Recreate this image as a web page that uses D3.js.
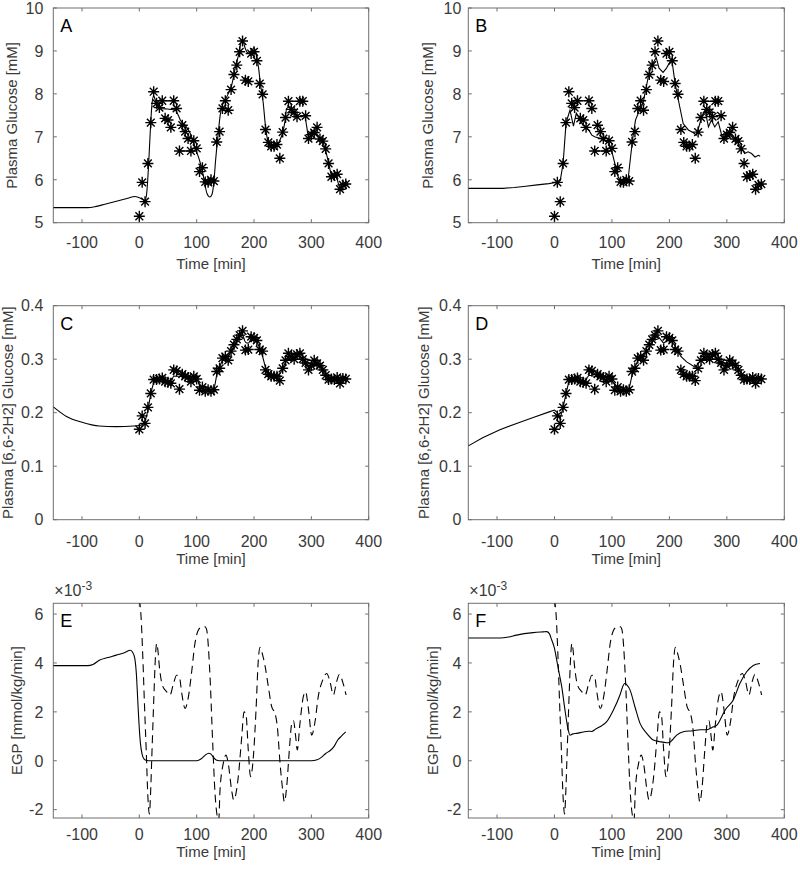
<!DOCTYPE html>
<html><head><meta charset="utf-8">
<script src="https://cdn.jsdelivr.net/npm/d3@7"></script>
<style>body{margin:0;background:#fff} text{font-family:"Liberation Sans",Arial,Helvetica,sans-serif}</style>
</head><body><svg id="c" width="800" height="870"></svg>
<script>
// ---------- data ----------
const sampleTimes = d3.range(0, 361, 5);
const glucoseData = [5.15,5.94,5.49,6.38,7.33,8.05,7.78,7.68,7.84,7.43,7.39,7.22,7.84,7.66,6.67,7.27,7.12,6.96,6.67,6.91,6.73,6.19,6.28,5.95,5.94,6.00,5.97,6.88,7.12,7.66,7.84,7.62,8.10,8.45,8.67,8.98,9.23,8.32,8.29,8.94,8.98,8.77,8.24,7.99,7.17,6.87,6.78,6.78,6.82,6.50,7.11,7.45,7.83,7.64,7.57,7.47,7.83,7.83,7.49,6.96,7.05,7.10,7.22,6.95,6.90,6.72,6.38,6.07,6.10,6.13,5.78,5.88,5.90];
const tracerData = [0.169,0.194,0.180,0.210,0.236,0.262,0.262,0.263,0.265,0.258,0.257,0.255,0.280,0.278,0.244,0.272,0.268,0.266,0.258,0.268,0.263,0.242,0.248,0.240,0.243,0.240,0.243,0.277,0.283,0.302,0.305,0.298,0.315,0.327,0.337,0.345,0.353,0.317,0.318,0.342,0.340,0.335,0.318,0.315,0.280,0.272,0.268,0.268,0.268,0.260,0.283,0.298,0.311,0.305,0.300,0.309,0.311,0.300,0.293,0.280,0.288,0.298,0.292,0.288,0.280,0.270,0.262,0.263,0.262,0.266,0.255,0.264,0.263];
const glucoseLinks = [[40,60],[70,90],[260,285]];

const modelA = [[-150,5.35],[-90,5.35],[-75,5.38],[-60,5.43],[-40,5.5],[-20,5.57],[-8,5.61],[0,5.58],[5,5.55],[10,5.52],[13,5.7],[16,6.3],[19,7.1],[22,7.75],[25,7.95],[28,7.85],[32,7.72],[36,7.66],[45,7.65],[55,7.64],[63,7.62],[68,7.5],[72,7.38],[80,7.27],[88,7.1],[95,6.85],[100,6.65],[105,6.45],[110,6.2],[114,5.92],[118,5.68],[123,5.6],[127,5.67],[130,5.95],[133,6.45],[137,7.0],[141,7.5],[145,7.75],[150,7.87],[155,8.0],[161,8.2],[167,8.58],[173,8.9],[178,9.2],[181,9.2],[185,9.05],[190,8.95],[195,8.98],[200,9.08],[204,8.9],[208,8.6],[211,8.25],[216,7.8],[220,7.25],[224,6.92],[230,6.82],[240,6.82],[245,6.92],[250,7.1],[254,7.36],[257,7.66],[263,7.7],[269,7.58],[275,7.5],[283,7.47],[288,7.5],[292,7.23],[295,7.0],[300,7.04],[305,7.15],[311,7.04],[317,6.96],[323,6.77],[330,6.4],[335,6.12],[344,6.04],[350,5.82],[356,5.87],[360,5.9]];
const modelB = [[-150,5.8],[-90,5.8],[-70,5.82],[-50,5.85],[-30,5.88],[-10,5.91],[0,5.93],[5,5.94],[10,5.98],[15,6.38],[20,7.3],[23,7.45],[27,7.62],[33,7.25],[38,7.55],[43,7.45],[48,7.3],[55,7.2],[60,7.15],[65,7.04],[70,7.0],[80,6.96],[90,6.9],[95,6.85],[100,6.65],[105,6.38],[110,6.1],[115,5.95],[122,5.95],[128,6.0],[133,6.6],[137,7.04],[141,7.39],[147,7.59],[151,7.68],[155,7.83],[158,8.05],[164,8.44],[169,8.67],[173,8.75],[177,8.85],[182,8.6],[189,8.5],[195,8.6],[204,8.82],[210,8.24],[218,7.7],[224,7.31],[233,7.16],[241,7.1],[247,7.04],[253,7.31],[256,7.47],[262,7.62],[268,7.23],[273,7.39],[279,7.23],[285,7.35],[291,7.04],[297,6.96],[305,7.04],[312,6.96],[320,6.85],[326,6.73],[331,6.61],[337,6.65],[343,6.61],[349,6.53],[355,6.57],[358,6.55]];
const modelC = [[-150,0.211],[-127,0.193],[-100,0.182],[-70,0.175],[-40,0.174],[-10,0.175],[0,0.176],[5,0.178],[10,0.185],[15,0.205],[20,0.235],[25,0.255],[30,0.262],[40,0.262],[50,0.258],[55,0.257],[60,0.268],[70,0.268],[80,0.266],[90,0.263],[100,0.262],[105,0.252],[110,0.245],[120,0.242],[130,0.245],[135,0.27],[140,0.285],[145,0.298],[150,0.303],[155,0.305],[160,0.315],[165,0.325],[170,0.335],[175,0.343],[180,0.345],[185,0.332],[190,0.33],[195,0.338],[200,0.34],[205,0.333],[210,0.32],[215,0.305],[220,0.285],[225,0.275],[235,0.268],[245,0.272],[250,0.283],[255,0.295],[260,0.305],[270,0.302],[280,0.305],[285,0.302],[290,0.29],[295,0.285],[305,0.29],[315,0.288],[320,0.282],[325,0.273],[330,0.266],[340,0.263],[350,0.26],[360,0.265]];
const modelD = [[-150,0.138],[-125,0.153],[-95,0.168],[-66,0.18],[-37,0.191],[-8,0.202],[0,0.205],[5,0.2],[10,0.19],[15,0.21],[20,0.235],[25,0.258],[30,0.262],[40,0.26],[50,0.256],[60,0.27],[70,0.268],[80,0.265],[90,0.262],[100,0.26],[110,0.245],[120,0.243],[130,0.245],[135,0.27],[145,0.298],[155,0.305],[165,0.322],[175,0.34],[180,0.343],[190,0.33],[200,0.338],[210,0.325],[220,0.305],[230,0.295],[245,0.285],[255,0.298],[265,0.305],[280,0.305],[290,0.29],[300,0.288],[310,0.29],[320,0.282],[330,0.268],[340,0.262],[350,0.26],[360,0.264]];
const egpE = [[-150,3.89],[-90,3.89],[-80,3.95],[-69,4.12],[-55,4.22],[-40,4.32],[-25,4.43],[-16,4.52],[-12,4.45],[-8,4.2],[-5,3.5],[-3,2.6],[-1,1.7],[2,0.7],[5,0.25],[8,0.08],[13,0.01],[20,0],[100,0],[108,0.08],[115,0.23],[121,0.31],[125,0.27],[129,0.15],[134,0.03],[140,0],[300,0],[310,0.04],[318,0.15],[325,0.3],[333,0.42],[340,0.6],[346,0.85],[352,1.0],[360,1.18]];
const egpF = [[-150,5.02],[-95,5.02],[-80,5.06],[-66,5.14],[-37,5.24],[-20,5.27],[-13.5,5.28],[-9,5.2],[-4.8,4.94],[0,4.6],[3.9,4.12],[8,3.6],[12.6,3.03],[18.3,2.07],[22,1.5],[24,1.25],[27,1.05],[32,1.1],[38.7,1.12],[50,1.18],[58.9,1.21],[64.7,1.2],[72,1.3],[79.2,1.39],[90.9,1.6],[102.4,2.07],[114,2.69],[120,3.1],[122.7,3.17],[126,3.1],[131.4,2.9],[140,2.21],[148.9,1.53],[160.5,1.12],[172,0.85],[183.7,0.78],[195.3,0.74],[200,0.75],[205,0.85],[212.7,1.05],[224.2,1.19],[241.6,1.23],[253.2,1.27],[265,1.27],[276.5,1.39],[282.3,1.45],[290,1.75],[296.8,2.07],[311.2,2.49],[322.9,3.17],[334.5,3.64],[346,3.9],[357.7,3.98]];
const egpTrue = [[0,6.6],[3,5.9],[6,4.3],[9,2.3],[12,0.45],[15,-1.5],[17.5,-2.18],[19.5,-1.4],[21.6,0.03],[25.6,2.76],[28,4.2],[30.3,4.8],[32,4.6],[35,3.85],[40,3.1],[47.8,2.82],[53.5,2.69],[59.3,3.13],[65,3.5],[69.8,3.44],[74,2.76],[79.7,2.14],[85.5,2.6],[91.3,3.64],[97,4.8],[103,5.35],[108.8,5.48],[114.6,5.48],[117.5,5.35],[123.3,3.44],[128,0.71],[132,-1.33],[136,-2.29],[138.5,-2.45],[140.7,-1.2],[146.5,-0.1],[151,0.23],[155,-0.1],[161,-1.2],[164.5,-1.6],[168,-1.4],[172.6,-0.65],[178.6,0.98],[182.6,2.0],[186,1.9],[190,0.44],[194,-0.65],[199,0.2],[203.5,2.07],[207.5,4.12],[210.5,4.64],[215,4.33],[219,3.91],[225,3.03],[230.8,2.21],[236.6,1.94],[240.7,1.39],[245.4,-0.1],[250,-1.2],[252.9,-1.68],[257,-1.06],[261.6,0.44],[265.8,1.53],[268.7,1.65],[272.7,0.98],[275.5,0.44],[280,1.5],[286,2.62],[290,2.82],[295,2.1],[300.6,1.05],[306.4,1.6],[312,2.62],[319.8,3.3],[326.7,3.57],[332.6,3.23],[338.3,2.69],[344,3.23],[348.8,3.53],[354.6,3.23],[360.5,2.69]];

const xTicks = [-100,0,100,200,300,400];
const glucoseTicks = [5,6,7,8,9,10];
const tracerTicks = [0,0.1,0.2,0.3,0.4];
const egpTicks = [-2,0,2,4,6];

// ---------- layout ----------
const cols = [{x0:53.3,x1:368.7,gap:10},{x0:468.3,x1:784.3,gap:7}];
const rows = [
  {y0:8, y1:222.7, dom:[5,10], ticks:glucoseTicks, fmt:v=>String(v), label:"Plasma Glucose [mM]", tb:25.5, lb:46},
  {y0:305.7, y1:519.7, dom:[0,0.4], ticks:tracerTicks, fmt:v=>v===0?"0":v.toFixed(1), label:"Plasma [6,6-2H2] Glucose [mM]", tb:27, lb:44.5},
  {y0:603.3, y1:818, dom:[-2.34,6.44], ticks:egpTicks, fmt:v=>String(v), label:"EGP [mmol/kg/min]", tb:22, lb:39}
];
const ylx = [[17.3,433.3],[13.2,429],[22.3,438]];
const panels = [
  {id:"A", r:0, c:0, lines:[{d:modelA, curve:d3.curveMonotoneX}], stars:glucoseData, links:true},
  {id:"B", r:0, c:1, lines:[{d:modelB, curve:d3.curveLinear}], stars:glucoseData, links:true},
  {id:"C", r:1, c:0, lines:[{d:modelC, curve:d3.curveMonotoneX}], stars:tracerData},
  {id:"D", r:1, c:1, lines:[{d:modelD, curve:d3.curveLinear}], stars:tracerData},
  {id:"E", r:2, c:0, lines:[{d:egpTrue, curve:d3.curveMonotoneX, dash:"8,5"},{d:egpE, curve:d3.curveMonotoneX}]},
  {id:"F", r:2, c:1, lines:[{d:egpTrue, curve:d3.curveMonotoneX, dash:"8,5"},{d:egpF, curve:d3.curveMonotoneX}]}
];

const svg = d3.select("#c");
const axisCol = "#6e6e6e", textCol = "#3a3a3a";

function starPath(r){
  const d = r*Math.SQRT1_2;
  return `M${-r},0L${r},0M0,${-r}L0,${r}M${-d},${-d}L${d},${d}M${-d},${d}L${d},${-d}`;
}

panels.forEach((p,i)=>{
  const C = cols[p.c], R = rows[p.r];
  const x = d3.scaleLinear().domain([-150,400]).range([C.x0,C.x1]);
  const y = d3.scaleLinear().domain(R.dom).range([R.y1,R.y0]);
  const g = svg.append("g");
  const clipId = "clip"+p.id;
  svg.append("clipPath").attr("id",clipId).append("rect")
    .attr("x",C.x0).attr("y",R.y0).attr("width",C.x1-C.x0).attr("height",R.y1-R.y0);

  g.append("rect").attr("x",C.x0).attr("y",R.y0).attr("width",C.x1-C.x0).attr("height",R.y1-R.y0)
    .attr("fill","none").attr("stroke",axisCol).attr("stroke-width",1);
  const tl = 3.5;
  xTicks.forEach(t=>{
    const xx = x(t);
    g.append("line").attr("x1",xx).attr("x2",xx).attr("y1",R.y1).attr("y2",R.y1-tl).attr("stroke",axisCol);
    g.append("line").attr("x1",xx).attr("x2",xx).attr("y1",R.y0).attr("y2",R.y0+tl).attr("stroke",axisCol);
    g.append("text").attr("x",xx).attr("y",R.y1+R.tb).attr("text-anchor","middle")
      .attr("font-size",16).attr("fill",textCol).text(String(t));
  });
  R.ticks.forEach(t=>{
    const yy = y(t);
    g.append("line").attr("x1",C.x0).attr("x2",C.x0+tl).attr("y1",yy).attr("y2",yy).attr("stroke",axisCol);
    g.append("line").attr("x1",C.x1).attr("x2",C.x1-tl).attr("y1",yy).attr("y2",yy).attr("stroke",axisCol);
    g.append("text").attr("x",C.x0-C.gap).attr("y",yy).attr("dy","0.36em").attr("text-anchor","end")
      .attr("font-size",16).attr("fill",textCol).text(R.fmt(t));
  });
  g.append("text").attr("x",(C.x0+C.x1)/2).attr("y",R.y1+R.lb).attr("text-anchor","middle")
    .attr("font-size",15).attr("fill",textCol).text("Time [min]");
  g.append("text").attr("transform",`translate(${ylx[p.r][p.c]},${(R.y0+R.y1)/2}) rotate(-90)`)
    .attr("text-anchor","middle").attr("font-size",15).attr("fill",textCol).text(R.label);
  if (p.r===2){
    const t = g.append("text").attr("x",C.x0+1).attr("y",R.y0-7).attr("font-size",16).attr("fill",textCol);
    t.append("tspan").text("\u00d710");
    t.append("tspan").attr("font-size",12).attr("dy",-6).text("-3");
  }
  g.append("text").attr("x",C.x0+7).attr("y",R.y0+24).attr("font-size",18).attr("fill","#000").text(p.id);

  const plot = g.append("g").attr("clip-path",`url(#${clipId})`);
  p.lines.forEach(L=>{
    const line = d3.line().x(d=>x(d[0])).y(d=>y(d[1])).curve(L.curve);
    plot.append("path").attr("d",line(L.d)).attr("fill","none").attr("stroke","#000")
      .attr("stroke-width",1.1).attr("stroke-dasharray",L.dash||null);
  });
  if (p.links){
    glucoseLinks.forEach(([a,b])=>{
      const ia = sampleTimes.indexOf(a), ib = sampleTimes.indexOf(b);
      plot.append("line").attr("x1",x(a)).attr("x2",x(b))
        .attr("y1",y(p.stars[ia])).attr("y2",y(p.stars[ib])).attr("stroke","#000").attr("stroke-width",1.1);
    });
  }
  if (p.stars){
    const sp = starPath(5.5);
    plot.selectAll(null).data(sampleTimes).enter().append("path")
      .attr("transform",(t,k)=>`translate(${x(t)},${y(p.stars[k])})`)
      .attr("d",sp).attr("fill","none").attr("stroke","#000").attr("stroke-width",1.4);
  }
});
</script></body></html>
